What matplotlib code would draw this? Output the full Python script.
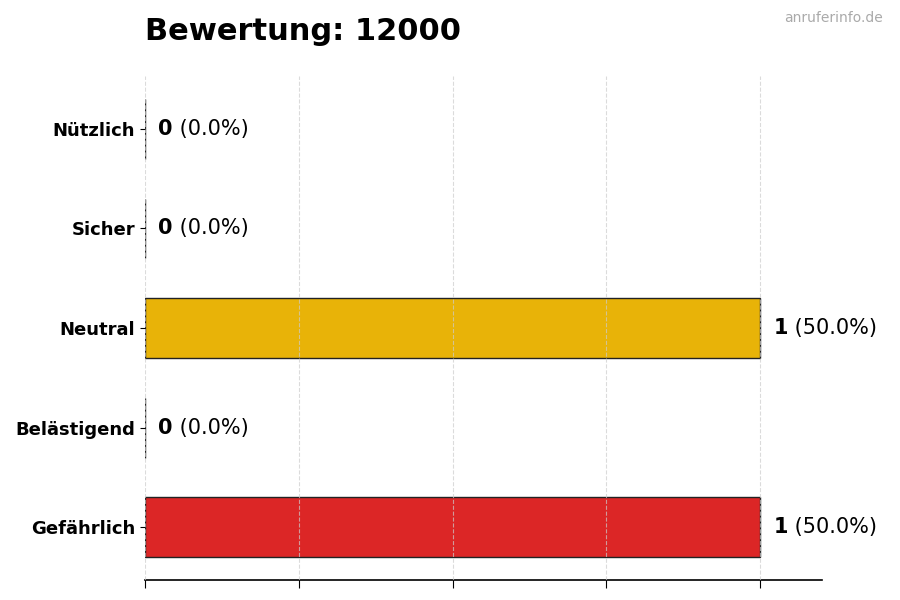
import matplotlib
matplotlib.use("Agg")
import matplotlib.pyplot as plt

categories = ["Gefährlich", "Belästigend", "Neutral", "Sicher", "Nützlich"]
counts = [1, 0, 1, 0, 0]
colors = ["#DC2626", "#E5484D", "#E8B308", "#16A34A", "#15803D"]
title = "Bewertung: 12000"
watermark = "anruferinfo.de"

total = sum(counts)

fig = plt.figure(figsize=(9, 6), dpi=100)
ax = fig.add_axes([0.161, 0.0333, 0.752, 0.84])

pos = range(len(categories))
ax.barh(pos, counts, height=0.6, color=colors, edgecolor="#222222", linewidth=1.0)

ax.set_yticks(list(pos))
ax.set_yticklabels(categories, fontsize=13, fontweight="bold")
ax.set_xlim(0, 1.1)
ax.set_xticks([0, 0.25, 0.5, 0.75, 1.0])
ax.set_xticklabels([])
ax.tick_params(axis="x", length=6)

for s in ["top", "right", "left"]:
    ax.spines[s].set_visible(False)
ax.spines["bottom"].set_linewidth(1.2)

ax.grid(axis="x", linestyle="--", color="#cccccc", linewidth=0.8, alpha=0.7)
ax.set_axisbelow(False)

# value labels: bold count + normal percent
for i, c in enumerate(counts):
    pct = c / total * 100 if total else 0
    t = ax.text(c + 0.022, i, str(c), fontsize=15, fontweight="bold", va="center", ha="left")
    ax.annotate(f" ({pct:.1f}%)", xy=(1, 0.5), xycoords=t, fontsize=15,
                va="center", ha="left")

fig.text(0.161, 0.948, title, fontsize=22, fontweight="bold", ha="left", va="center")
fig.text(0.981, 0.97, watermark, fontsize=10, color="#aaaaaa", ha="right", va="center")

fig.savefig("out.png", dpi=100)
